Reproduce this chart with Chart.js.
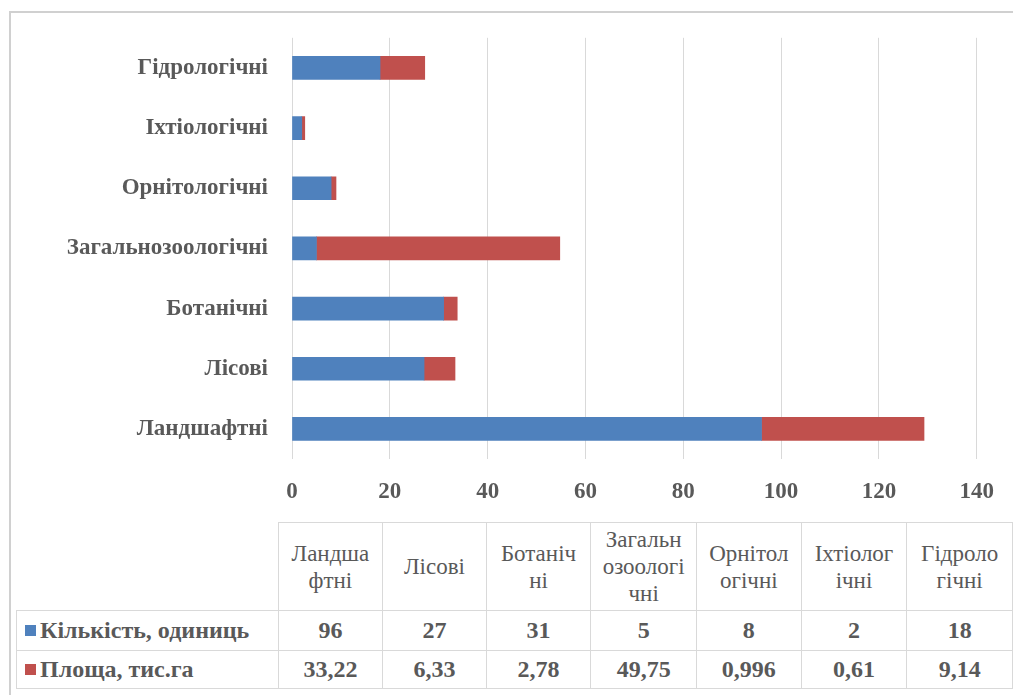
<!DOCTYPE html>
<html>
<head>
<meta charset="utf-8">
<script src="https://cdn.jsdelivr.net/npm/chart.js@4.4.1/dist/chart.umd.min.js"></script>
<style>
  html,body{margin:0;padding:0;background:#fff;overflow:hidden;}
  #wrap{position:relative;width:1013px;height:695px;}
  #frame{position:absolute;left:9px;top:11px;width:1100px;height:800px;border:2px solid #d0d0d0;box-sizing:border-box;}
  #cv{position:absolute;left:0;top:0;}
  #tbl{position:absolute;left:16px;top:522px;border-collapse:collapse;table-layout:fixed;
       font-family:"Liberation Serif","Tinos","DejaVu Serif",serif;color:#595959;}
  #tbl td{border:1px solid #d9d9d9;text-align:center;padding:0;overflow:hidden;white-space:nowrap;}
  #tbl tr.h td{font-size:23px;line-height:27px;height:87px;font-weight:normal;}
  #tbl tr.h td.blank{border-left:none;border-top:none;}
  #tbl tr.r td{font-size:24px;font-weight:bold;}
  #tbl tr.r1 td{height:39px;}
  #tbl tr.r2 td{height:37px;}
  #tbl td.leg{text-align:left;padding-left:8px;}
  .sw{display:inline-block;width:11px;height:11px;margin-right:4px;vertical-align:2px;}
</style>
</head>
<body>
<div id="wrap">
  <div id="frame"></div>
  <canvas id="cv" width="1013" height="510"></canvas>
  <table id="tbl"></table>
</div>
<script>
const categories = ['Ландшафтні','Лісові','Ботанічні','Загальнозоологічні','Орнітологічні','Іхтіологічні','Гідрологічні'];
const tableHeaders = ['Ландша\nфтні','Лісові','Ботаніч\nні','Загальн\nозоологі\nчні','Орнітол\nогічні','Іхтіолог\nічні','Гідроло\nгічні'];
const seriesNames = ['Кількість, одиниць','Площа, тис.га'];
const countValues = [96, 27, 31, 5, 8, 2, 18];
const areaValues = [33.22, 6.33, 2.78, 49.75, 0.996, 0.61, 9.14];
const areaLabels = ['33,22','6,33','2,78','49,75','0,996','0,61','9,14'];
const xTicks = [0, 20, 40, 60, 80, 100, 120, 140];
const colors = ['#4F81BD', '#C0504D'];

const font = {family: '"Liberation Serif", "Tinos", "DejaVu Serif", serif', weight: 'bold'};

new Chart(document.getElementById('cv'), {
  type: 'bar',
  data: {
    labels: categories,
    datasets: [
      {label: seriesNames[0], data: countValues, backgroundColor: colors[0], barThickness: 23},
      {label: seriesNames[1], data: areaValues, backgroundColor: colors[1], barThickness: 23}
    ]
  },
  options: {
    indexAxis: 'y',
    responsive: false,
    animation: false,
    layout: {padding: {top: 35, right: 33, bottom: 1, left: 0}},
    plugins: {legend: {display: false}, tooltip: {enabled: false}},
    scales: {
      x: {
        stacked: true, min: 0, max: 140,
        afterBuildTicks: s => { s.ticks = xTicks.map(v => ({value: v})); },
        afterFit: s => { s.height = 50; },
        grid: {color: '#d9d9d9', drawTicks: false},
        border: {display: false},
        ticks: {padding: 19, color: '#595959', font: {...font, size: 23}}
      },
      y: {
        stacked: true, reverse: true,
        afterFit: s => { s.width = 292; },
        grid: {display: false, drawTicks: false},
        border: {display: false},
        ticks: {padding: 24, color: '#595959', font: {...font, size: 23}}
      }
    }
  }
});

// data table
const tbl = document.getElementById('tbl');
const colW = [262, 105, 104, 105, 106, 105, 106, 106];
const cg = document.createElement('colgroup');
colW.forEach(w => { const c = document.createElement('col'); c.style.width = w + 'px'; cg.appendChild(c); });
tbl.appendChild(cg);
const hr = document.createElement('tr'); hr.className = 'h';
const blank = document.createElement('td'); blank.className = 'blank'; hr.appendChild(blank);
tableHeaders.forEach(h => { const td = document.createElement('td'); td.innerHTML = h.split('\n').join('<br>'); hr.appendChild(td); });
tbl.appendChild(hr);
[[countValues.map(String), 'r r1'], [areaLabels, 'r r2']].forEach(([vals, cls], i) => {
  const tr = document.createElement('tr'); tr.className = cls;
  const td0 = document.createElement('td'); td0.className = 'leg';
  td0.innerHTML = '<span class="sw" style="background:' + colors[i] + '"></span>' + seriesNames[i];
  tr.appendChild(td0);
  vals.forEach(v => { const td = document.createElement('td'); td.textContent = v; tr.appendChild(td); });
  tbl.appendChild(tr);
});
</script>
</body>
</html>
